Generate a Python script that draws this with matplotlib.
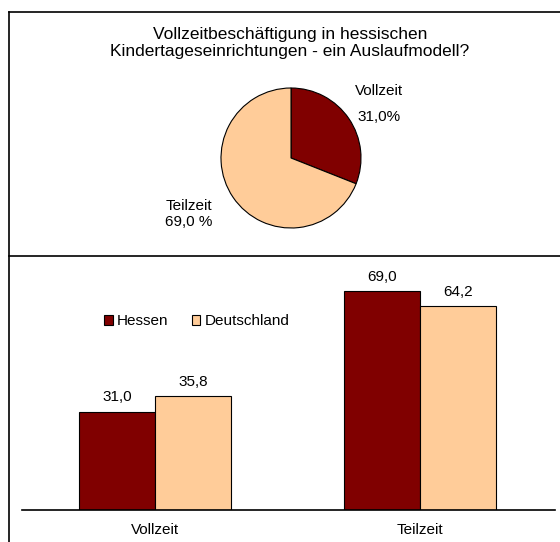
import numpy as np
import matplotlib.pyplot as plt
from matplotlib.lines import Line2D

plt.rcParams['font.family'] = ['Liberation Sans', 'DejaVu Sans']

# data
pie_labels = ['Vollzeit', 'Teilzeit']
pie_values = [31.0, 69.0]
pie_texts = ['Vollzeit\n\n31,0%', 'Teilzeit\n69,0 %']

categories = ['Vollzeit', 'Teilzeit']
hessen = [31.0, 69.0]
deutschland = [35.8, 64.2]
series_names = ['Hessen', 'Deutschland']

dark_red = '#800000'
peach = '#FFCC99'

W, H = 560, 542
fig = plt.figure(figsize=(W / 100, H / 100), dpi=100)


def fx(px):
    return px / W


def fy(py):
    return 1 - py / H


# frame lines
fig.add_artist(Line2D([fx(9), fx(9)], [fy(12), 0], color='black', lw=1.2))
fig.add_artist(Line2D([fx(9), 1], [fy(12), fy(12)], color='black', lw=1.2))
fig.add_artist(Line2D([fx(9), 1], [fy(256), fy(256)], color='black', lw=1.2))

fig.text(fx(290), fy(43), 'Vollzeitbeschäftigung in hessischen\nKindertageseinrichtungen - ein Auslaufmodell?',
         ha='center', va='center', fontsize=12.5, linespacing=1.15)

# pie
cx, cy, r = 291, 158, 70
ax_p = fig.add_axes([fx(cx - r), fy(cy + r), 2 * r / W, 2 * r / H])
ax_p.pie(pie_values, colors=[dark_red, peach], startangle=90, counterclock=False,
         wedgeprops=dict(edgecolor='black', linewidth=0.8))
ax_p.set_xlim(-1, 1)
ax_p.set_ylim(-1, 1)
ax_p.axis('off')
fig.text(fx(379), fy(104), pie_texts[0], ha='center', va='center', fontsize=11, linespacing=0.95)
fig.text(fx(189), fy(214), pie_texts[1], ha='center', va='center', fontsize=11, linespacing=1.25)

# bars
ax = fig.add_axes([fx(22), fy(510), fx(555) - fx(22), (510 - 256) / H])
x = np.arange(len(categories))
w = 0.287
b1 = ax.bar(x - w / 2, hessen, w, color=dark_red, edgecolor='black', linewidth=0.8, label=series_names[0])
b2 = ax.bar(x + w / 2, deutschland, w, color=peach, edgecolor='black', linewidth=0.8, label=series_names[1])
for bars, vals in [(b1, hessen), (b2, deutschland)]:
    for bar, v in zip(bars, vals):
        ax.text(bar.get_x() + bar.get_width() / 2, v + 2.3, f'{v:.1f}'.replace('.', ','),
                ha='center', va='bottom', fontsize=11)
ax.set_xlim(-0.502, 1.51)
ax.set_ylim(0, 80)
ax.set_xticks(x)
ax.set_xticklabels(categories, fontsize=11)
ax.tick_params(axis='x', length=0, pad=9)
ax.set_yticks([])
for s in ['left', 'right', 'top']:
    ax.spines[s].set_visible(False)
ax.spines['bottom'].set_linewidth(1.2)
ax.patch.set_visible(False)
ax.legend(loc='upper left', bbox_to_anchor=(0.140, 0.80), ncol=2, frameon=False, fontsize=11,
          handlelength=0.55, handleheight=0.55, handletextpad=0.3, columnspacing=1.5, borderpad=0)

fig.savefig('out.png', dpi=100)
